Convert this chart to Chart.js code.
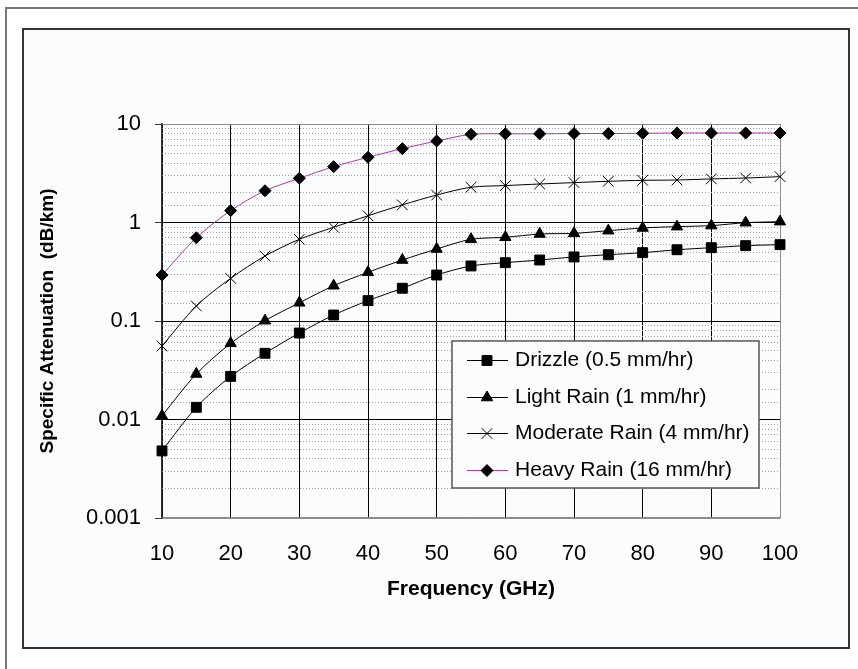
<!DOCTYPE html>
<html>
<head>
<meta charset="utf-8">
<script src="https://cdn.jsdelivr.net/npm/chart.js@4/dist/chart.umd.min.js"></script>
<style>
  body { margin: 0; background: #fff; }
  #wrap { position: relative; width: 858px; height: 669px; overflow: hidden; }
  #outer { position: absolute; left: 5px; top: 7px; width: 900px; height: 700px; border-left: 2px solid #777; border-top: 2px solid #777; }
  #inner { position: absolute; left: 22px; top: 28px; width: 828px; height: 621px; box-sizing: border-box; border: 2px solid #333; background: #fbfcfe; }
  canvas { position: absolute; left: 0; top: 0; }
</style>
</head>
<body>
<div id="wrap">
  <div id="outer"></div>
  <div id="inner"></div>
  <canvas id="c" width="858" height="669"></canvas>
</div>
<script>
// frequency points (GHz)
const freqs = [10, 15, 20, 25, 30, 35, 40, 45, 50, 55, 60, 65, 70, 75, 80, 85, 90, 95, 100];

const seriesNames = [
    'Drizzle (0.5 mm/hr)',
    'Light Rain (1 mm/hr)',
    'Moderate Rain (4 mm/hr)',
    'Heavy Rain (16 mm/hr)'
];

// specific attenuation, dB/km
const drizzle  = [0.0048, 0.0133, 0.0274, 0.047, 0.0755, 0.115, 0.161, 0.215, 0.293, 0.362, 0.391, 0.416, 0.447, 0.471, 0.494, 0.529, 0.555, 0.582, 0.596];
const light    = [0.0109, 0.029, 0.0593, 0.1007, 0.153, 0.228, 0.312, 0.416, 0.538, 0.675, 0.708, 0.764, 0.776, 0.826, 0.88, 0.908, 0.93, 0.995, 1.02];
const moderate = [0.0557, 0.142, 0.271, 0.457, 0.675, 0.894, 1.17, 1.51, 1.90, 2.28, 2.37, 2.46, 2.54, 2.62, 2.68, 2.70, 2.77, 2.83, 2.92];
const heavy    = [0.293, 0.70, 1.32, 2.10, 2.81, 3.69, 4.59, 5.62, 6.72, 7.86, 7.95, 7.95, 8.0, 8.0, 8.05, 8.1, 8.1, 8.1, 8.1];

const xTicks = [10, 20, 30, 40, 50, 60, 70, 80, 90, 100];
const yTicks = [0.001, 0.01, 0.1, 1, 10];
const yTickLabels = ['0.001', '0.01', '0.1', '1', '10'];

const FONT = '"Liberation Sans", Arial, Helvetica, sans-serif';
Chart.defaults.font.family = FONT;
Chart.defaults.color = '#000';

const isDecade = v => Math.abs(Math.log10(v) - Math.round(Math.log10(v))) < 1e-6;
const pts = vals => freqs.map((f, i) => ({ x: f, y: vals[i] }));

// Excel-style legend box inside the plot: line sample + marker + text
const boxLegend = {
    id: 'boxLegend',
    afterDraw(chart, args, o) {
        const ctx = chart.ctx;
        const a = chart.chartArea;
        const x0 = a.left + o.dx, y0 = a.top + o.dy;
        ctx.save();
        ctx.fillStyle = '#fbfcfe';
        ctx.fillRect(x0, y0, o.w, o.h);
        ctx.strokeStyle = '#555';
        ctx.lineWidth = 1.5;
        ctx.strokeRect(x0, y0, o.w, o.h);
        ctx.font = o.font;
        ctx.textBaseline = 'middle';
        chart.data.datasets.forEach((ds, i) => {
            const y = Math.round(y0 + o.first + i * o.step) + 0.5;
            ctx.strokeStyle = ds.borderColor;
            ctx.lineWidth = ds.borderWidth;
            ctx.beginPath();
            ctx.moveTo(x0 + 15, y);
            ctx.lineTo(x0 + 56, y);
            ctx.stroke();
            ctx.fillStyle = ds.pointBackgroundColor;
            ctx.strokeStyle = ds.pointBorderColor;
            ctx.lineWidth = 1;
            Chart.helpers.drawPoint(ctx, { pointStyle: ds.pointStyle, radius: ds.pointRadius, borderWidth: 1, rotation: 0 }, x0 + 35, y);
            ctx.fillStyle = '#000';
            ctx.fillText(ds.label, x0 + 63, y);
        });
        ctx.restore();
    }
};

const common = { borderWidth: 1, tension: 0.3, clip: false, pointBorderWidth: 1, pointBackgroundColor: '#000', pointBorderColor: '#000' };

new Chart(document.getElementById('c').getContext('2d'), {
    type: 'line',
    data: {
        datasets: [
            { ...common, label: seriesNames[0], data: pts(drizzle),  borderColor: '#000',    pointStyle: 'rect',     pointRadius: 7 },
            { ...common, label: seriesNames[1], data: pts(light),    borderColor: '#000',    pointStyle: 'triangle', pointRadius: 6.5 },
            { ...common, label: seriesNames[2], data: pts(moderate), borderColor: '#000',    pointStyle: 'crossRot', pointRadius: 7.5 },
            { ...common, label: seriesNames[3], data: pts(heavy),    borderColor: '#a83ca8', pointStyle: 'rectRot',  pointRadius: 6 }
        ]
    },
    options: {
        responsive: false,
        animation: false,
        layout: { padding: { left: 36, top: 124, right: 78, bottom: 51 } },
        plugins: {
            legend: { display: false },
            tooltip: { enabled: false },
            boxLegend: { dx: 290, dy: 217, w: 307, h: 147, first: 19, step: 36.5, font: '21px ' + FONT }
        },
        scales: {
            x: {
                type: 'linear',
                min: 10,
                max: 100,
                afterBuildTicks: s => { s.ticks = xTicks.map(v => ({ value: v })); },
                grid: { color: c => (c.tick && c.tick.value === 100) ? '#8c8c8c' : '#000', drawTicks: false },
                border: { color: '#8c8c8c', width: 1.5 },
                ticks: { padding: 23, font: { size: 22 }, autoSkip: false, maxRotation: 0 },
                title: { display: true, text: 'Frequency (GHz)', font: { size: 21, weight: 'bold' }, padding: { top: 0, bottom: 16 } },
                afterFit: s => { s.height = 100; }
            },
            y: {
                type: 'logarithmic',
                position: 'left',
                min: 0.001,
                max: 10,
                afterBuildTicks: s => { s.ticks = yTicks.map(v => ({ value: v })); },
                ticks: { callback: (v, i) => yTickLabels[i], padding: 14, font: { size: 22 }, autoSkip: false },
                grid: { color: c => (c.tick && (c.tick.value === 10 || c.tick.value === 0.001)) ? '#8c8c8c' : '#000', tickLength: 7, tickColor: '#333' },
                border: { color: '#333', width: 1.5 },
                title: { display: true, text: 'Specific Attenuation  (dB/km)', font: { size: 19, weight: 'bold' }, padding: 0 },
                afterFit: s => { s.width = 126; }
            },
            yMinor: {
                type: 'logarithmic',
                position: 'left',
                min: 0.001,
                max: 10,
                afterBuildTicks: s => { s.ticks = s.ticks.filter(t => !isDecade(t.value)); },
                ticks: { display: false },
                grid: { color: '#a4a4a4', drawTicks: false },
                border: { display: false, dash: [1, 2] },
                afterFit: s => { s.width = 0; }
            }
        }
    },
    plugins: [boxLegend]
});
</script>
</body>
</html>
